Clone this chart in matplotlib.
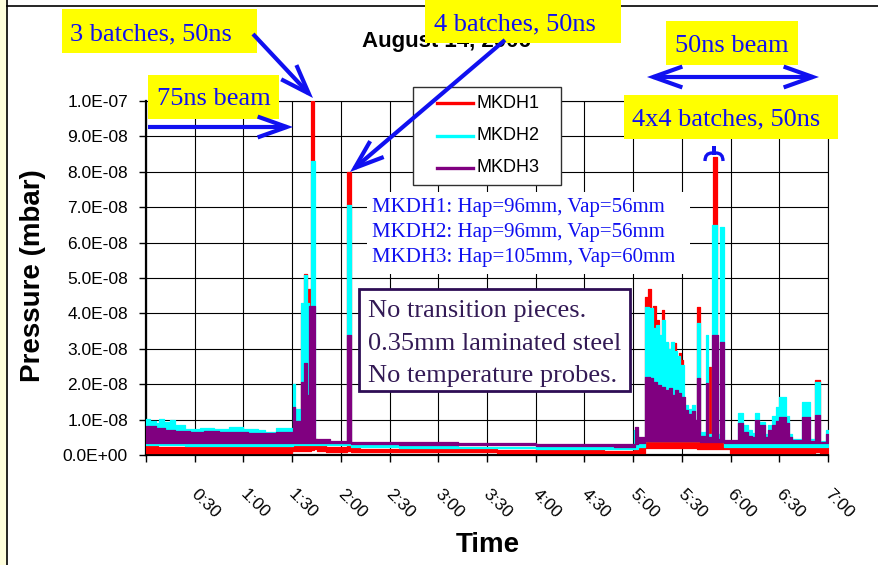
import numpy as np
import matplotlib
matplotlib.use("Agg")
import matplotlib.pyplot as plt
from matplotlib.patches import Rectangle, FancyArrowPatch, PathPatch
from matplotlib.path import Path
from matplotlib.lines import Line2D
from matplotlib.transforms import ScaledTranslation

# ---------------- data (time in hours, pressure in 1e-9 mbar) ----------------
series_names = ["MKDH1", "MKDH2", "MKDH3"]
series_colors = ["#ff0000", "#00ffff", "#800080"]

mkdh1_t = [0.00, 0.12, 0.30, 0.55, 0.80, 1.05, 1.30, 1.50, 1.591, 1.611, 1.622, 1.652, 1.663, 1.690,
           1.724, 1.76, 1.85, 2.067, 2.102, 2.20, 2.60, 3.00, 3.60, 4.20, 4.70, 5.010, 5.121, 5.152,
           5.183, 5.204, 5.234, 5.245, 5.265, 5.296, 5.316, 5.347, 5.360, 5.409, 5.440, 5.471, 5.491,
           5.512, 5.655, 5.686, 5.778, 5.799, 5.823, 5.864, 5.990, 6.30, 6.60, 6.866, 6.918, 7.00]
mkdh1_lo = [0.7, 0.6, 0.7, 0.6, 0.7, 0.6, 0.7, 1.0, 1.2, 1.2, 1.2, 1.2, 1.2, 1.5,
            1.6, 1.0, 0.9, 1.0, 0.9, 0.9, 0.8, 0.8, 0.7, 0.6, 0.5, 0.5, 1.9, 1.9,
            1.9, 1.9, 1.9, 1.9, 1.9, 1.9, 1.9, 1.9, 1.9, 1.9, 1.9, 1.9, 1.9,
            1.9, 1.8, 1.8, 1.8, 1.8, 1.8, 1.8, 0.6, 0.6, 0.6, 0.8, 0.6, 0.6]
mkdh1_hi = [2.5, 2.3, 2.4, 2.2, 2.3, 2.2, 2.4, 3.2, 41.0, 3.5, 51.0, 3.8, 47.0, 100.0,
            4.4, 2.8, 2.3, 80.0, 2.0, 1.8, 1.7, 1.6, 1.5, 1.3, 1.2, 2.0, 44.5, 47.0,
            30.0, 42.0, 30.0, 38.0, 30.0, 41.0, 30.0, 31.5, 25.0, 31.5, 25.0, 28.8, 26.8,
            3.8, 41.7, 3.8, 25.0, 3.8, 84.3, 3.8, 2.6, 2.4, 2.5, 21.2, 2.4, 2.4]

mkdh2_t = [0.00, 0.04, 0.10, 0.13, 0.18, 0.25, 0.30, 0.40, 0.55, 0.70, 0.85, 1.00, 1.15, 1.22,
           1.33, 1.509, 1.529, 1.591, 1.622, 1.652, 1.668, 1.694, 1.735, 2.063, 2.104, 2.60, 3.20,
           4.00, 4.80, 5.009, 5.045, 5.121, 5.163, 5.204, 5.234, 5.265, 5.296, 5.327, 5.357, 5.388,
           5.419, 5.450, 5.481, 5.522, 5.563, 5.604, 5.635, 5.655, 5.686, 5.747, 5.773, 5.805,
           5.856, 5.891, 5.932, 6.076, 6.128, 6.180, 6.220, 6.251, 6.292, 6.353, 6.384, 6.425,
           6.466, 6.497, 6.569, 6.600, 6.630, 6.733, 6.815, 6.866, 6.918, 6.980, 7.00]
mkdh2_lo = [2.7, 2.7, 2.7, 2.7, 2.7, 2.7, 2.7, 2.6, 2.6, 2.6, 2.6, 2.6, 2.6, 2.6,
            2.6, 2.8, 2.8, 2.8, 2.8, 2.8, 2.8, 2.8, 2.9, 2.9, 2.2, 2.1, 2.0,
            1.8, 1.7, 1.8, 2.3, 4.0, 4.0, 4.0, 4.0, 4.0, 4.0, 4.0, 4.0, 4.0,
            4.0, 4.0, 4.0, 4.0, 4.0, 4.0, 4.0, 4.0, 4.0, 4.0, 4.0, 4.0,
            4.0, 4.0, 2.4, 2.4, 2.4, 2.4, 2.4, 2.4, 2.4, 2.4, 2.4, 2.4,
            2.4, 2.4, 2.4, 2.4, 2.4, 2.4, 2.4, 2.4, 2.4, 2.4, 2.4]
mkdh2_hi = [10.2, 9.6, 9.0, 10.2, 9.3, 9.8, 8.5, 7.4, 7.7, 7.3, 7.8, 7.4, 7.1, 6.4,
            7.6, 20.0, 13.0, 43.0, 50.8, 43.0, 40.0, 83.0, 3.4, 70.5, 2.7, 2.5, 2.4,
            2.2, 2.1, 7.0, 4.6, 41.7, 41.4, 36.0, 36.7, 34.0, 38.0, 32.0, 30.0, 32.0,
            29.5, 28.0, 25.4, 14.0, 13.0, 14.0, 9.0, 37.2, 6.5, 33.9, 6.0, 65.0,
            6.0, 64.5, 3.4, 11.8, 8.5, 7.0, 6.2, 12.0, 9.4, 6.0, 8.5, 11.0,
            13.5, 16.5, 11.0, 6.0, 4.5, 15.0, 4.5, 20.7, 4.0, 7.0, 7.0]

mkdh3_t = [0.00, 0.10, 0.20, 0.30, 0.45, 0.60, 0.75, 0.90, 1.05, 1.20, 1.33, 1.509, 1.529, 1.591,
           1.622, 1.652, 1.673, 1.735, 1.89, 2.063, 2.104, 2.60, 3.20, 4.00, 4.80, 5.020, 5.045,
           5.121, 5.173, 5.204, 5.245, 5.286, 5.327, 5.368, 5.399, 5.429, 5.460, 5.491, 5.532,
           5.563, 5.604, 5.635, 5.655, 5.686, 5.747, 5.773, 5.809, 5.871, 5.891, 5.932, 6.076,
           6.128, 6.180, 6.220, 6.251, 6.292, 6.353, 6.384, 6.425, 6.466, 6.497, 6.569, 6.600,
           6.630, 6.733, 6.815, 6.866, 6.918, 6.980, 7.00]
mkdh3_lo = [3.3, 3.3, 3.3, 3.3, 3.3, 3.3, 3.3, 3.3, 3.3, 3.3, 3.3, 3.4, 3.4, 3.4,
            3.4, 3.4, 3.4, 3.5, 3.3, 3.3, 3.0, 2.9, 2.8, 2.5, 2.4, 3.0, 3.3,
            4.0, 4.0, 4.0, 4.0, 4.0, 4.0, 4.0, 4.0, 4.0, 4.0, 4.0, 4.0,
            4.0, 4.0, 4.0, 4.0, 3.6, 3.6, 3.6, 3.6, 3.6, 3.6, 3.3, 3.3,
            3.3, 3.3, 3.3, 3.3, 3.3, 3.3, 3.3, 3.3, 3.3, 3.3, 3.3, 3.3,
            3.3, 3.3, 3.3, 3.3, 3.3, 3.3, 3.3]
mkdh3_hi = [8.2, 7.6, 7.2, 6.8, 6.5, 6.7, 6.4, 6.6, 6.3, 6.1, 6.6, 13.5, 9.5, 20.5,
            26.0, 17.0, 42.0, 4.5, 3.9, 34.0, 3.8, 3.6, 3.4, 3.2, 3.0, 8.0, 5.0,
            22.1, 21.7, 20.7, 19.8, 19.3, 18.4, 18.9, 16.9, 18.4, 17.4, 16.5, 12.7,
            11.7, 12.5, 9.9, 21.7, 5.5, 20.3, 5.0, 33.9, 4.5, 32.0, 4.2, 9.0,
            6.5, 5.5, 5.0, 9.9, 8.5, 5.2, 7.0, 8.5, 9.5, 10.8, 9.0, 5.0,
            4.2, 10.8, 4.0, 11.3, 3.8, 6.0, 6.0]

x_tick_labels = ["", "0:30", "1:00", "1:30", "2:00", "2:30", "3:00", "3:30", "4:00",
                 "4:30", "5:00", "5:30", "6:00", "6:30", "7:00"]
y_ticks = [0.0, 1e-8, 2e-8, 3e-8, 4e-8, 5e-8, 6e-8, 7e-8, 8e-8, 9e-8, 1e-7]

title_text = "August 14, 2006"
aperture_lines = ["MKDH1: Hap=96mm, Vap=56mm",
                  "MKDH2: Hap=96mm, Vap=56mm",
                  "MKDH3: Hap=105mm, Vap=60mm"]
note_lines = ["No transition pieces.", "0.35mm laminated steel", "No temperature probes."]

# ---------------- figure ----------------
W, H = 879, 565
fig = plt.figure(figsize=(W / 100, H / 100), dpi=100)
fig.patch.set_facecolor("white")

def fx(x):
    return x / W

def fy(y):
    return 1 - y / H

SANS = "Liberation Sans"
SERIF = "Liberation Serif"
BLUE = "#1010f0"

ax = fig.add_axes([fx(146), fy(455), (828 - 146) / W, (455 - 101) / H])
ax.set_xlim(0, 7)
ax.set_ylim(0, 1e-7)

series = [(mkdh1_t, mkdh1_lo, mkdh1_hi), (mkdh2_t, mkdh2_lo, mkdh2_hi), (mkdh3_t, mkdh3_lo, mkdh3_hi)]
for (t, lo, hi), c, z in zip(series, series_colors, [3, 4, 5]):
    t = np.asarray(t)
    lo = np.asarray(lo) * 1e-9
    hi = np.asarray(hi) * 1e-9
    ax.fill_between(t, lo, hi, step="post", facecolor=c, edgecolor=c, linewidth=0.9, zorder=z)

ax.set_xticks(np.arange(0, 7.01, 0.5))
ax.set_xticklabels(x_tick_labels, rotation=-45, ha="left", va="center",
                   rotation_mode="anchor", fontsize=12.5, family=SANS)
ax.set_yticks(y_ticks)
ax.set_yticklabels(["%.1E" % v for v in y_ticks], fontsize=12.5, family=SANS)
ax.tick_params(axis="y", direction="out", length=5, width=1, pad=8)
ax.tick_params(axis="x", direction="out", length=5, width=1, pad=21.5)
for lab in ax.get_xticklabels():
    lab.set_transform(lab.get_transform() + ScaledTranslation(-0.01, 0, fig.dpi_scale_trans))

ax.grid(True, color="black", linewidth=0.8)
ax.set_axisbelow(True)
for s in ["top", "right"]:
    ax.spines[s].set_linewidth(0.8)
ax.spines["left"].set_linewidth(1.6)
ax.spines["bottom"].set_linewidth(1.6)

# axis labels
fig.text(fx(33), fy(276), "Pressure (mbar)", rotation=90, ha="center", va="center",
         fontsize=20, fontweight="bold", family=SANS)
fig.text(fx(488), fy(552), "Time", ha="center", va="baseline",
         fontsize=20, fontweight="bold", family=SANS)
fig.text(fx(362), fy(47), title_text, ha="left", va="baseline", fontsize=16,
         fontweight="bold", family=SANS, zorder=0.5)

# page decorations (left strip and border lines)
fig.add_artist(Rectangle((0, 0), fx(7.5), 1, transform=fig.transFigure,
                         facecolor="#ffffdc", edgecolor="none", zorder=1))
fig.add_artist(Line2D([fx(7.5), fx(7.5)], [0, 1], transform=fig.transFigure,
                      color="black", lw=1.2, zorder=1))
fig.add_artist(Line2D([fx(7.5), 1], [fy(6), fy(6)], transform=fig.transFigure,
                      color="black", lw=1.2, zorder=1))

# legend (manual to match box geometry)
fig.add_artist(Rectangle((fx(413), fy(185)), (561 - 413) / W, (185 - 87) / H,
                         transform=fig.transFigure, facecolor="white",
                         edgecolor="#303030", lw=1.0, zorder=2))
for i, (name, c) in enumerate(zip(series_names, series_colors)):
    yy = 103 + 32.5 * i
    fig.add_artist(Line2D([fx(437), fx(473)], [fy(yy), fy(yy)], transform=fig.transFigure,
                          color=c, lw=2.4, zorder=3))
    fig.text(fx(477), fy(yy), name, ha="left", va="center", fontsize=13, family=SANS, zorder=3)

# white box behind aperture text
fig.add_artist(Rectangle((fx(367), fy(274)), (690 - 367) / W, (274 - 192) / H,
                         transform=fig.transFigure, facecolor="white", edgecolor="none", zorder=2))
for i, line in enumerate(aperture_lines):
    fig.text(fx(372), fy(212 + 25 * i), line, ha="left", va="baseline", fontsize=15,
             family=SERIF, color=BLUE, zorder=3)

# note box
NOTE = "#2e0d55"
fig.add_artist(Rectangle((fx(359), fy(391)), (630 - 359) / W, (391 - 289) / H,
                         transform=fig.transFigure, facecolor="white", edgecolor=NOTE,
                         lw=2.0, zorder=2))
for i, line in enumerate(note_lines):
    fig.text(fx(368), fy(317 + 32.5 * i), line, ha="left", va="baseline", fontsize=19,
             family=SERIF, color="#331a55", zorder=3)

# yellow callouts: (x0, y0, x1, y1, text_x, baseline, text)
callouts = [
    (62, 9, 257, 53, 70, 40, "3 batches, 50ns"),
    (148, 75, 279, 119, 157, 105, "75ns beam"),
    (425, 0, 621, 43, 434, 30, "4 batches, 50ns"),
    (666, 21, 798, 65, 675, 52, "50ns beam"),
    (624, 95, 838, 139, 632, 125, "4x4 batches, 50ns"),
]
for x0, y0, x1, y1, tx, ty, s in callouts:
    fig.add_artist(Rectangle((fx(x0), fy(y1)), (x1 - x0) / W, (y1 - y0) / H,
                             transform=fig.transFigure, facecolor="#ffff00",
                             edgecolor="none", zorder=2))
    fig.text(fx(tx), fy(ty), s, ha="left", va="baseline", fontsize=19, family=SERIF,
             color=BLUE, zorder=3)

# arrows
def arrow(p0, p1, style="->"):
    a = FancyArrowPatch((fx(p0[0]), fy(p0[1])), (fx(p1[0]), fy(p1[1])),
                        transform=fig.transFigure,
                        arrowstyle=style + ",head_length=1.4,head_width=0.5",
                        mutation_scale=15, color=BLUE, lw=3.0, zorder=2.5,
                        shrinkA=0, shrinkB=0, joinstyle="miter", capstyle="butt")
    fig.add_artist(a)

arrow((253, 34), (313, 98))
arrow((148, 127), (293, 127))
arrow((505, 40), (350, 172))
arrow((647, 77), (819, 77), style="<->")

# brace above the 4x4 peak
verts = [(705, 161), (705, 153), (712, 153), (714, 153), (714, 146), (714, 153), (716, 153),
         (723, 153), (723, 161)]
codes = [Path.MOVETO, Path.CURVE3, Path.CURVE3, Path.LINETO, Path.LINETO, Path.LINETO,
         Path.LINETO, Path.CURVE3, Path.CURVE3]
bp = Path([(fx(x), fy(y)) for x, y in verts], codes)
fig.add_artist(PathPatch(bp, transform=fig.transFigure, facecolor="none", edgecolor=BLUE,
                         lw=2.4, zorder=3))

fig.savefig("out.png", dpi=100)
